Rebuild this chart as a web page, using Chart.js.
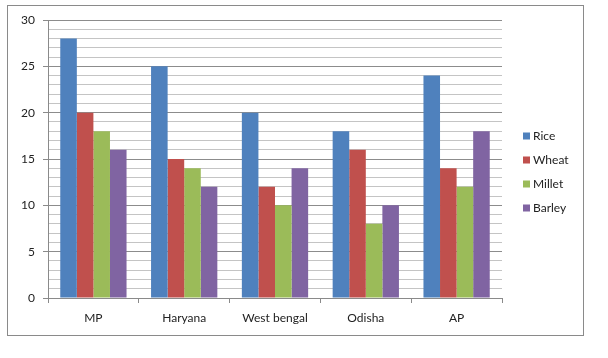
<!DOCTYPE html>
<html>
<head>
<meta charset="utf-8">
<script src="https://cdn.jsdelivr.net/npm/chart.js@4"></script>
<style>
html,body{margin:0;padding:0;background:#fff;}
#wrap{width:608px;height:358px;position:relative;}
</style>
</head>
<body>
<div id="wrap"><canvas id="c" width="608" height="358"></canvas></div>
<script>
const categories = ["MP", "Haryana", "West bengal", "Odisha", "AP"];
const rice   = [28, 25, 20, 18, 24];
const wheat  = [20, 15, 12, 16, 14];
const millet = [18, 14, 10, 8, 12];
const barley = [16, 12, 14, 10, 18];
const seriesNames = ["Rice", "Wheat", "Millet", "Barley"];
const seriesColors = ["#4F81BD", "#C0504D", "#9BBB59", "#8064A2"];
const yTickLabels = [0, 5, 10, 15, 20, 25, 30];

const FONT = "Lato, 'Liberation Sans', sans-serif";

const frame = {
  id: 'frame',
  beforeDraw(chart) {
    const ctx = chart.ctx;
    ctx.save();
    ctx.fillStyle = '#fff';
    ctx.fillRect(0, 0, chart.width, chart.height);
    ctx.restore();
  },
  afterDraw(chart) {
    const ctx = chart.ctx;
    ctx.save();
    ctx.strokeStyle = '#8a8a8a';
    ctx.lineWidth = 1;
    ctx.strokeRect(7.5, 5.5, 576, 330);
    // legend
    const ds = chart.data.datasets;
    ctx.font = '12px ' + FONT;
    ctx.textBaseline = 'middle';
    ctx.textAlign = 'left';
    ds.forEach((d, i) => {
      const cy = 136 + 24 * i;
      ctx.fillStyle = d.backgroundColor;
      ctx.fillRect(523, cy - 3.5, 7, 7);
      ctx.fillStyle = '#222';
      ctx.fillText(d.label, 533, cy + 0.5);
    });
    ctx.restore();
  }
};

const seriesData = [rice, wheat, millet, barley];

new Chart(document.getElementById('c'), {
  type: 'bar',
  data: {
    labels: categories,
    datasets: seriesNames.map((n, i) => ({
      label: n,
      data: seriesData[i],
      backgroundColor: seriesColors[i],
      borderWidth: 0,
      barPercentage: 1,
      categoryPercentage: 0.73
    }))
  },
  options: {
    responsive: false,
    animation: false,
    devicePixelRatio: 1,
    layout: { padding: { left: 0, top: 20, right: 106, bottom: 20 } },
    plugins: { legend: { display: false }, tooltip: { enabled: false } },
    scales: {
      x: {
        afterFit(s) { s.height = 40; },
        grid: {
          offset: true,
          drawOnChartArea: false,
          drawTicks: true,
          tickLength: 5,
          tickColor: '#8a8a8a'
        },
        border: { display: true, color: '#8a8a8a' },
        ticks: { color: '#222', font: { family: FONT, size: 12 }, padding: 8, maxRotation: 0 }
      },
      y: {
        min: 0,
        max: 30,
        afterFit(s) { s.width = 48; },
        afterBuildTicks(s) {
          const t = [];
          for (let v = 0; v <= 30; v++) t.push({ value: v });
          s.ticks = t;
        },
        grid: {
          color: (c) => (c.tick && c.tick.value % 5 === 0) ? '#8c8c8c' : '#c4c4c4',
          tickColor: (c) => (c.tick && c.tick.value % 5 === 0) ? '#8a8a8a' : 'rgba(0,0,0,0)',
          tickLength: 5,
          drawTicks: true
        },
        border: { display: true, color: '#8a8a8a' },
        ticks: {
          autoSkip: false,
          color: '#222',
          font: { family: FONT, size: 12 },
          padding: 8,
          callback: (v) => yTickLabels.includes(v) ? String(v) : ''
        }
      }
    }
  },
  plugins: [frame]
});
</script>
</body>
</html>
